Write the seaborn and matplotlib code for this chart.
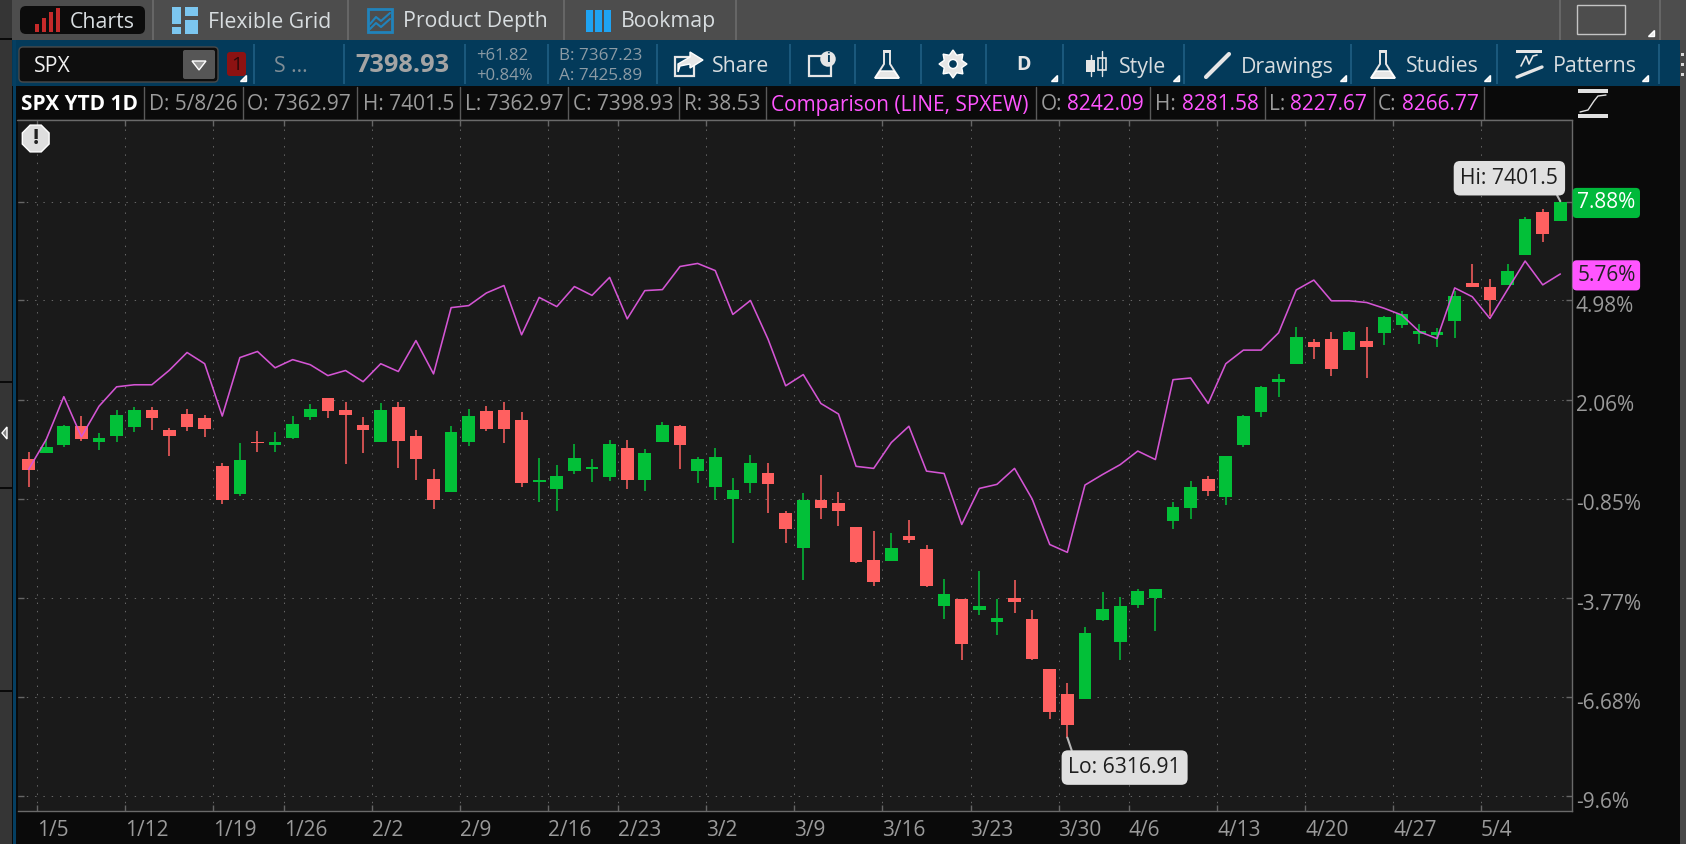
import numpy as np
import pandas as pd
import matplotlib
matplotlib.use('Agg')
import matplotlib.pyplot as plt
from matplotlib.patches import Rectangle, FancyBboxPatch, Polygon, RegularPolygon
import seaborn as sns

sns.set_theme(style='dark')
plt.rcParams['font.family'] = 'Open Sans'

# percent change, one entry per session (1/2/26 .. 5/8/26)
opens = [0.31, 0.48, 0.72, 1.28, 0.81, 0.98, 1.25, 1.75, 1.16, 1.63, 1.51, 0.10, -0.72, 0.83, 0.72, 0.92, 1.54,
         2.10, 1.75, 1.31, 0.83, 1.86, 0.98, -0.28, -0.64, 0.83, 1.72, 1.75, 1.45, -0.37, -0.58, -0.04, 0.02,
         -0.22, 0.64, -0.30, 0.81, 1.29, -0.04, -0.51, -0.86, -0.39, -0.10, -1.28, -2.31, -0.89, -0.98, -1.69,
         -2.66, -2.69, -1.95, -2.33, -4.01, -3.81, -4.13, -4.48, -3.78, -4.39, -5.87, -6.60, -6.75, -4.41, -5.06,
         -3.97, -3.76, -1.52, -1.12, -0.26, -0.79, 0.74, 1.71, 2.59, 3.12, 3.77, 3.86, 3.53, 3.80, 4.03, 4.27,
         3.98, 3.95, 4.39, 5.48, 5.39, 5.45, 6.33, 7.57, 7.33]
highs = [0.53, 0.89, 1.33, 1.57, 1.07, 1.75, 1.86, 1.86, 1.22, 1.78, 1.60, 0.19, 0.78, 1.13, 1.10, 1.57, 1.92,
         2.10, 1.98, 1.54, 1.95, 1.98, 1.16, 0.01, 1.28, 1.78, 1.89, 1.98, 1.69, 0.36, 0.14, 0.76, 0.31,
         0.87, 0.87, 0.61, 1.40, 1.31, 0.37, 0.64, -0.25, 0.43, 0.20, -1.22, -0.69, -0.16, -0.66, -1.69,
         -1.81, -1.86, -1.48, -2.22, -3.22, -3.81, -2.98, -3.81, -3.25, -4.13, -5.87, -6.26, -4.64, -3.61, -3.73,
         -3.50, -3.50, -0.94, -0.32, -0.17, 0.41, 1.61, 2.45, 2.83, 4.21, 3.86, 4.06, 4.09, 4.21, 4.53, 4.68,
         4.30, 4.18, 5.27, 6.04, 5.62, 6.06, 7.44, 7.68, 7.90]
lows = [-0.52, 0.48, 0.66, 0.86, 0.57, 0.83, 1.10, 1.16, 0.39, 1.13, 0.95, -1.02, -0.78, 0.51, 0.51, 0.89, 1.45,
        1.51, 0.16, 0.48, 0.81, 0.04, -0.31, -1.16, -0.64, 0.69, 1.13, 0.78, -0.52, -0.96, -1.22, -0.13, -0.36,
        -0.33, -0.57, -0.63, 0.81, 0.02, -0.39, -0.89, -2.16, -0.69, -1.28, -2.16, -3.25, -1.45, -1.66, -2.75,
        -3.42, -2.69, -2.16, -3.45, -4.40, -5.60, -4.28, -4.87, -4.22, -5.60, -7.34, -7.88, -6.75, -4.44, -5.61,
        -4.08, -4.73, -1.73, -1.44, -0.76, -1.03, 0.66, 1.56, 2.15, 3.12, 3.27, 2.77, 3.53, 2.71, 3.68, 4.18,
        3.71, 3.62, 3.89, 5.39, 4.53, 5.45, 6.33, 6.71, 7.33]
closes = [-0.02, 0.66, 1.28, 0.89, 0.92, 1.60, 1.75, 1.51, 0.98, 1.25, 1.19, -0.90, 0.28, 0.78, 0.83, 1.36, 1.78,
          1.72, 1.60, 1.16, 1.75, 0.86, 0.33, -0.90, 1.10, 1.57, 1.19, 1.19, -0.40, -0.31, -0.19, 0.34, 0.08,
          0.76, -0.30, 0.49, 1.31, 0.73, 0.31, 0.37, -0.60, 0.20, -0.42, -1.75, -0.89, -1.13, -1.22, -2.72,
          -3.31, -2.31, -2.07, -3.42, -3.66, -5.13, -4.01, -4.37, -3.89, -5.57, -7.13, -7.51, -4.79, -4.11, -4.00,
          -3.58, -3.50, -1.09, -0.50, -0.62, 0.41, 1.59, 2.42, 2.68, 3.92, 3.62, 2.97, 4.06, 3.62, 4.48, 4.59,
          4.09, 4.06, 5.12, 5.39, 4.98, 5.86, 7.39, 6.95, 7.89]
spxew = [0.01, 0.89, 2.15, 0.97, 1.87, 2.44, 2.50, 2.50, 2.93, 3.45, 3.12, 1.58, 3.30, 3.48, 3.00, 3.24, 3.09,
         2.77, 2.92, 2.59, 3.12, 2.89, 3.80, 2.82, 4.77, 4.83, 5.20, 5.42, 3.97, 5.07, 4.80, 5.39, 5.13,
         5.66, 4.44, 5.27, 5.30, 5.98, 6.07, 5.86, 4.57, 4.98, 3.84, 2.47, 2.80, 1.95, 1.64, 0.10,
         0.04, 0.80, 1.28, -0.04, -0.11, -1.61, -0.55, -0.43, 0.04, -0.86, -2.20, -2.43, -0.45, -0.14, 0.15,
         0.55, 0.30, 2.65, 2.70, 1.95, 3.12, 3.52, 3.52, 4.03, 5.29, 5.58, 4.97, 4.97, 4.92, 4.75, 4.55,
         4.06, 3.86, 5.35, 5.09, 4.45, 5.30, 6.14, 5.44, 5.76]

date_labels = ['1/5', '1/12', '1/19', '1/26', '2/2', '2/9', '2/16', '2/23', '3/2', '3/9', '3/16', '3/23', '3/30',
               '4/6', '4/13', '4/20', '4/27', '5/4']
date_ticks = [0.5, 5.5, 10.5, 14.5, 19.5, 24.5, 29.5, 33.5, 38.5, 43.5, 48.5, 53.5, 58.5, 62.5, 67.5, 72.5, 77.5, 82.5]
pct_ticks = [7.88, 4.98, 2.06, -0.85, -3.77, -6.68, -9.6]
pct_labels = ['', '4.98%', '2.06%', '-0.85%', '-3.77%', '-6.68%', '-9.6%']

GREEN = '#02c038'
RED = '#ff6060'
MAGENTA = '#ff55ff'
GRAY = '#9a9a9a'
TOOL_TXT = '#d8dde0'
ICON = '#e6e6e6'
BLUE = '#033a5a'

df = pd.DataFrame({'open': opens, 'high': highs, 'low': lows, 'close': closes, 'spxew': spxew})
df['i'] = df.index
df['color'] = np.where(df['close'] >= df['open'], GREEN, RED)

fig = plt.figure(figsize=(16.86, 8.44), dpi=100, facecolor='#0a0a0a')

# window chrome, drawn in pixels
ui = fig.add_axes([0, 0, 1, 1], zorder=0)
ui.set_xlim(0, 1686)
ui.set_ylim(844, 0)
ui.axis('off')


def box(x0, y0, x1, y1, color):
    ui.add_patch(Rectangle((x0, y0), x1 - x0, y1 - y0, facecolor=color, edgecolor='none'))


def rbox(x0, y0, x1, y1, color, ec='none', r=4):
    ui.add_patch(FancyBboxPatch((x0 + r, y0 + r), x1 - x0 - 2 * r, y1 - y0 - 2 * r, boxstyle=f'round,pad={r}',
                                facecolor=color, edgecolor=ec, lw=1))


def txt(x, y, s, color=TOOL_TXT, size=15.3, **kw):
    ui.text(x, y, s, color=color, fontsize=size, va='center', ha=kw.pop('ha', 'left'), **kw)


box(0, 0, 1686, 40, '#4d4d4d')
box(0, 40, 1686, 86, BLUE)
box(0, 0, 12, 844, '#353535')
box(13, 40, 16, 844, '#053f62')
box(1680, 40, 1686, 844, '#484848')
for y in [38, 381, 487, 690]:
    box(0, y, 12, y + 2, '#0a0a0a')
ui.add_patch(Polygon([[7, 427], [7, 439], [2, 433]], facecolor='#808080'))

# top tabs
rbox(20, 6, 145, 34, '#0c0c0c', r=6)
for x, h in zip([35, 42, 49, 56], [8, 14, 20, 24]):
    box(x, 32 - h, x + 4, 32, '#c62a2a')
for x in [152, 347, 563, 735, 1559, 1659]:
    box(x, 0, x + 1.5, 40, '#666666')
txt(70, 22, 'Charts')
txt(208, 22, 'Flexible Grid')
txt(403, 22, 'Product Depth')
txt(621, 22, 'Bookmap')
box(172, 7, 181, 24, '#7cc6ef')
box(185, 7, 198, 16, '#7cc6ef')
box(172, 27, 181, 34, '#7cc6ef')
box(185, 20, 198, 34, '#7cc6ef')
ui.add_patch(Rectangle((368, 9), 24, 23, facecolor='none', edgecolor='#2183bb', lw=2))
ui.plot([370, 376, 381, 390], [24, 17, 21, 13], color='#2183bb', lw=1.5)
ui.plot([370, 376, 381, 390], [29, 23, 27, 19], color='#2183bb', lw=1.5)
for x in [586, 595, 604]:
    box(x, 10, x + 7, 32, '#1fa3f2')
ui.add_patch(Rectangle((1577, 5), 48, 29, facecolor='none', edgecolor='#c4c4c4', lw=1))
ui.add_patch(Polygon([[1654, 30], [1654, 36], [1648, 36]], facecolor=ICON))

# symbol toolbar
rbox(19, 47, 218, 82, '#0e0e0e', ec='#4a4a4a', r=4)
txt(34, 67, 'SPX', color='#f0f0f0')
rbox(183, 50, 215, 79, '#565656', r=2)
ui.add_patch(Polygon([[192, 61], [206, 61], [199, 70]], facecolor='#9a9a9a'))
rbox(227, 52, 246, 76, '#8c1212', r=3)
txt(236.5, 65, '1', color='#2a0a0a', size=14, ha='center')
txt(274, 67, 'S ...', color='#7f8d96')
txt(355, 66, '7398.93', color='#a4a4a4', size=18.3, fontweight='bold')
txt(476, 56, '+61.82', color='#8c9ba5', size=12)
txt(476, 76, '+0.84%', color='#8c9ba5', size=12)
txt(559, 56, 'B: 7367.23', color='#8c9ba5', size=12.3)
txt(559, 76, 'A: 7425.89', color='#8c9ba5', size=12.3)
for x in [253, 343, 464, 547, 656, 789, 854, 920, 985, 1062, 1183, 1350, 1496, 1658]:
    box(x, 44, x + 1.5, 84, '#1a587c')
txt(712, 67, 'Share')
txt(1119, 67, 'Style')
txt(1241, 67, 'Drawings')
txt(1406, 67, 'Studies')
txt(1553, 67, 'Patterns')
txt(1024, 65, 'D', color=ICON, size=14, fontweight='bold', ha='center')
# share icon
ui.add_patch(Rectangle((675, 57), 19, 19, facecolor='none', edgecolor=ICON, lw=1.6))
ui.add_patch(Polygon([[690, 52], [703, 60], [690, 68], [690, 64], [680, 66], [678, 72], [678, 64], [690, 57]],
                     facecolor=ICON))
# news icon
ui.add_patch(Rectangle((809, 56), 22, 20, facecolor='none', edgecolor=ICON, lw=1.6))
ui.text(828, 59, 'i', color=BLUE, fontsize=9, ha='center', va='center', fontweight='bold',
        bbox=dict(boxstyle='circle,pad=0.1', fc=ICON, ec='none'))
# flasks
for x in [887, 1383]:
    ui.add_patch(Polygon([[x - 3, 52], [x + 3, 52], [x + 3, 64], [x + 12, 78], [x - 12, 78], [x - 3, 64]],
                         facecolor='none', edgecolor=ICON, lw=1.4))
    ui.add_patch(Polygon([[x - 7, 71], [x + 7, 71], [x + 12, 78], [x - 12, 78]], facecolor=ICON))
    box(x - 4, 50, x + 4, 52, ICON)
# gear
angles = np.linspace(0, 2 * np.pi, 16, endpoint=False)
radii = np.where(np.arange(16) % 2 == 0, 14, 9.5)
ui.add_patch(Polygon(np.c_[953 + radii * np.sin(angles), 64 + radii * np.cos(angles)], facecolor=ICON))
ui.add_patch(plt.Circle((953, 64), 4.5, facecolor=BLUE))
# style icon
ui.plot([1091, 1091], [55, 76], color=ICON, lw=1)
ui.plot([1102, 1102], [51, 76], color=ICON, lw=1)
box(1086, 60, 1095, 72, ICON)
ui.add_patch(Rectangle((1098, 58), 8, 12, facecolor=BLUE, edgecolor=ICON, lw=1.2))
# drawings icon
ui.plot([1206, 1229], [77, 54], color=ICON, lw=3, solid_capstyle='round')
# patterns icon
box(1516, 50, 1542, 53, ICON)
ui.plot([1517, 1542], [77, 67], color=ICON, lw=2.4)
ui.plot([1521, 1526, 1529, 1533, 1537], [66, 56, 64, 56, 55], color=ICON, lw=1.2)
# corner marks on the menu buttons
for x in [243, 1054, 1176, 1343, 1487, 1645]:
    ui.add_patch(Polygon([[x + 3, 75], [x + 3, 81], [x - 3, 81]], facecolor=ICON))
for y in [54, 64, 74]:
    box(1681, y - 1, 1684, y + 2, '#d8d8d8')

# quote row
box(17, 86, 1571, 120, '#0a0a0a')
ui.plot([17, 1571], [120, 120], color='#666666', lw=1)
for x in [144, 243, 357, 460, 568, 679, 766, 1036, 1150, 1265, 1374, 1484]:
    ui.plot([x, x], [87, 120], color='#5a5a5a', lw=1)
txt(21, 105, 'SPX YTD 1D', color='#ffffff', size=15, fontweight='bold')
for x, s in [(149, 'D: 5/8/26'), (247, 'O: 7362.97'), (363, 'H: 7401.5'), (465, 'L: 7362.97'), (573, 'C: 7398.93'),
             (684, 'R: 38.53'), (1041, 'O:'), (1155, 'H:'), (1269, 'L:'), (1378, 'C:')]:
    txt(x, 105, s, color=GRAY, size=15)
for x, s in [(771, 'Comparison (LINE, SPXEW)'), (1067, '8242.09'), (1182, '8281.58'), (1290, '8227.67'),
             (1402, '8266.77')]:
    txt(x, 105, s, color=MAGENTA, size=15)
box(1578, 89, 1608, 93, '#e0e0e0')
box(1578, 114, 1608, 118, '#e0e0e0')
ui.plot([1580, 1588, 1594, 1598, 1606], [112, 110, 101, 96, 95], color='#e0e0e0', lw=1)

# chart
ax = fig.add_axes([18 / 1686, 33 / 844, 1553.6 / 1686, 691 / 844], zorder=1)
ax.set_facecolor('#1a1a1a')
ax.vlines(df['i'], df['low'], df['high'], colors=df['color'], lw=1.1, zorder=2)
ax.bar(df['i'], (df['close'] - df['open']).abs(), bottom=df[['open', 'close']].min(axis=1), width=0.72,
       color=df['color'], linewidth=0, zorder=3)
sns.lineplot(data=df, x='i', y='spxew', color='#d455d4', lw=1.15, errorbar=None, ax=ax, zorder=4)

ax.set_xlim(-0.602, 87.64)
ax.set_ylim(-10.04, 10.29)
ax.set_xlabel('')
ax.set_ylabel('')
ax.set_xticks(date_ticks)
ax.set_xticklabels(date_labels, ha='left', color=GRAY, fontsize=15)
ax.set_yticks(pct_ticks)
ax.yaxis.tick_right()
ax.set_yticklabels([])
ax.tick_params(axis='x', which='both', direction='in', top=True, bottom=True, length=4, width=1, color='#666666', pad=6.5)
ax.tick_params(axis='y', which='both', direction='in', right=True, left=True, length=4, width=1, color='#666666')
ax.grid(True, color='#666666', lw=0.72, linestyle=(0, (1.4, 6.9)))
for name, sp in ax.spines.items():
    sp.set_color('#6a6a6a')
    sp.set_linewidth(1)
    sp.set_visible(name in ('bottom', 'right', 'top'))
for v, s in zip(pct_ticks, pct_labels):
    ax.annotate(s, xy=(1, v), xycoords=ax.get_yaxis_transform(), xytext=(3, -4.5), textcoords='offset points',
                color=GRAY, fontsize=15, va='center', ha='left', annotation_clip=False)

# last value badges
for v, s, fc, tc in [(closes[-1], '7.88%', '#00b93b', '#ffffff'), (spxew[-1], '5.76%', MAGENTA, '#222222')]:
    ax.annotate(s, xy=(1, v), xycoords=ax.get_yaxis_transform(), xytext=(4, -1), textcoords='offset points',
                color=tc, fontsize=15, va='center', ha='left', annotation_clip=False,
                bbox=dict(boxstyle='round,pad=0.22,rounding_size=0.2', fc=fc, ec='none'))

# high / low callouts
call = dict(boxstyle='round,pad=0.32,rounding_size=0.3', fc='#e0e0e0', ec='none')
hi_arrow = dict(arrowstyle='-', color='#b8b8b8', lw=1.5, shrinkA=0, shrinkB=0, relpos=(0.95, 0))
lo_arrow = dict(arrowstyle='-', color='#b8b8b8', lw=1.5, shrinkA=0, shrinkB=0, relpos=(0.05, 1))
ax.annotate('Hi: 7401.5', xy=(87, max(highs)), xytext=(-2, 23), textcoords='offset pixels', ha='right', va='center',
            fontsize=15.2, color='#1e1e1e', bbox=call, arrowprops=hi_arrow, zorder=6, annotation_clip=False)
ax.annotate('Lo: 6316.91', xy=(59, min(lows)), xytext=(1, -30), textcoords='offset pixels', ha='left', va='center',
            fontsize=15.2, color='#1e1e1e', bbox=call, arrowprops=lo_arrow, zorder=6, annotation_clip=False)

# alert marker
top = fig.add_axes([0, 0, 1, 1], zorder=2)
top.set_xlim(0, 1686)
top.set_ylim(844, 0)
top.axis('off')
top.add_patch(RegularPolygon((35.7, 138.5), 8, radius=14.5, orientation=np.pi / 8, facecolor='#dedede'))
top.text(35.7, 138, '!', color='#222222', fontsize=16, fontweight='bold', ha='center', va='center')

fig.savefig('out.png', dpi=100)
